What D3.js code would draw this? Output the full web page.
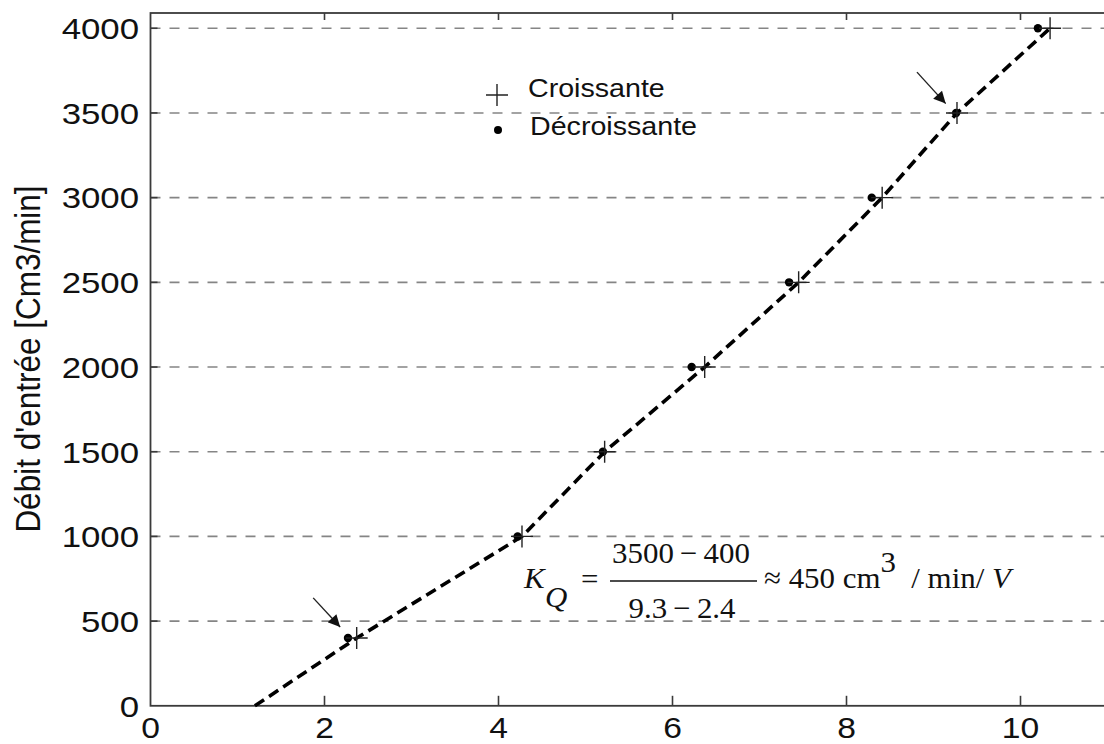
<!DOCTYPE html>
<html>
<head>
<meta charset="utf-8">
<script src="https://cdn.jsdelivr.net/npm/d3@7"></script>
<style>
  html, body { margin: 0; padding: 0; background: #fff; }
  svg { display: block; }
  text { font-family: "Liberation Sans", Arial, sans-serif; fill: #111; }
  .math { font-family: "Liberation Serif", "Times New Roman", serif; }
</style>
</head>
<body>
<svg id="chart" width="1104" height="744"></svg>
<script>
// Axis ticks
const xTicks = [0, 2, 4, 6, 8, 10];
const yTicks = [0, 500, 1000, 1500, 2000, 2500, 3000, 3500, 4000];

// Measured inlet flow (cm3/min) against command voltage (V)
const flowLevels      = [400, 1000, 1500, 2000, 2500, 3000, 3500, 4000];
const risingVoltage   = [2.37, 4.27, 5.22, 6.37, 7.45, 8.41, 9.27, 10.34]; // "Croissante"
const fallingVoltage  = [2.27, 4.22, 5.20, 6.22, 7.34, 8.29, 9.26, 10.20]; // "Décroissante"

// Characteristic drawn through the rising points, starting at the dead zone
const deadZoneVoltage = 1.2;

// Arrows marking the two points used for the gain: [from, to] in data units
const arrows = [
  { from: [8.81, 3741], to: [9.14, 3555] },
  { from: [1.87, 637],  to: [2.18, 465] }
];

const S = 1.13; // horizontal text stretch
const svg = d3.select("#chart");

const x = d3.scaleLinear().domain([0, 11]).range([150.5, 1107.5]);
const y = d3.scaleLinear().domain([0, 4090]).range([705.8, 13]);

const [x0, x1] = x.range();
const [yb, yt] = y.range();

// Dashed horizontal grid
svg.append("g").selectAll("line")
  .data(yTicks.filter(v => v > 0))
  .join("line")
  .attr("x1", x0).attr("x2", x1)
  .attr("y1", d => y(d)).attr("y2", d => y(d))
  .attr("stroke", "#858585").attr("stroke-width", 1.6)
  .attr("stroke-dasharray", "10,9");

// Frame
svg.append("rect")
  .attr("x", x0).attr("y", yt)
  .attr("width", x1 - x0).attr("height", yb - yt)
  .attr("fill", "none").attr("stroke", "#3a3a3a").attr("stroke-width", 1.8);

// Inward ticks on bottom / top / left
const ticks = svg.append("g").attr("stroke", "#3a3a3a").attr("stroke-width", 1.6);
ticks.selectAll(".tb").data(xTicks.filter(v => v > 0)).join("line")
  .attr("x1", d => x(d)).attr("x2", d => x(d))
  .attr("y1", yb).attr("y2", yb - 10);
ticks.selectAll(".tt").data(xTicks.filter(v => v > 0)).join("line")
  .attr("x1", d => x(d)).attr("x2", d => x(d))
  .attr("y1", yt).attr("y2", yt + 7);
ticks.selectAll(".tl").data(yTicks.filter(v => v > 0)).join("line")
  .attr("x1", x0).attr("x2", x0 + 7)
  .attr("y1", d => y(d)).attr("y2", d => y(d));

// Tick labels
svg.append("g").selectAll("g")
  .data(yTicks).join("g")
  .attr("transform", d => `translate(139,${y(d)}) scale(${S + 0.03},1)`)
  .append("text")
  .attr("text-anchor", "end").attr("dy", "0.36em")
  .style("font-size", "30px")
  .text(d => d);

svg.append("g").selectAll("g")
  .data(xTicks).join("g")
  .attr("transform", d => `translate(${x(d)},738) scale(${S + 0.03},1)`)
  .append("text")
  .attr("text-anchor", "middle")
  .style("font-size", "29px")
  .text(d => d);

// Y axis title
svg.append("text")
  .attr("transform", `translate(40,359) rotate(-90) scale(1,${S})`)
  .attr("text-anchor", "middle")
  .style("font-size", "31.5px")
  .text("Débit d'entrée [Cm3/min]");

// Fitted characteristic (dashed)
const fitPts = [[deadZoneVoltage, 0]].concat(risingVoltage.map((v, i) => [v, flowLevels[i]]));
svg.append("path")
  .datum(fitPts)
  .attr("d", d3.line().x(d => x(d[0])).y(d => y(d[1])))
  .attr("fill", "none").attr("stroke", "#000")
  .attr("stroke-width", 3.6).attr("stroke-dasharray", "11,6");

// Décroissante dots
svg.append("g").selectAll("circle")
  .data(fallingVoltage.map((v, i) => [v, flowLevels[i]]))
  .join("circle")
  .attr("cx", d => x(d[0])).attr("cy", d => y(d[1]))
  .attr("r", 4.2).attr("fill", "#000");

// Croissante plus markers
const plus = (sel, arm) => sel.attr("d", d => {
  const px = d.px, py = d.py;
  return `M${px - arm},${py}H${px + arm}M${px},${py - arm}V${py + arm}`;
});
svg.append("g").selectAll("path")
  .data(risingVoltage.map((v, i) => ({ px: x(v), py: y(flowLevels[i]) })))
  .join("path")
  .call(plus, 11)
  .attr("stroke", "#222").attr("stroke-width", 1.4).attr("fill", "none");

// Arrows
const defs = svg.append("defs");
defs.append("marker")
  .attr("id", "head").attr("viewBox", "0 0 10 10")
  .attr("refX", 10).attr("refY", 5)
  .attr("markerWidth", 16).attr("markerHeight", 12)
  .attr("markerUnits", "userSpaceOnUse")
  .attr("orient", "auto")
  .append("path").attr("d", "M0,0L10,5L0,10Z").attr("fill", "#111");
svg.append("g").selectAll("line")
  .data(arrows).join("line")
  .attr("x1", d => x(d.from[0])).attr("y1", d => y(d.from[1]))
  .attr("x2", d => x(d.to[0])).attr("y2", d => y(d.to[1]))
  .attr("stroke", "#222").attr("stroke-width", 1.4)
  .attr("marker-end", "url(#head)");

// Legend
const legend = svg.append("g");
legend.append("path").datum({ px: 497, py: 95 }).call(plus, 11)
  .attr("stroke", "#222").attr("stroke-width", 1.4);
legend.append("circle").attr("cx", 498).attr("cy", 130).attr("r", 4).attr("fill", "#000");
legend.append("g").attr("transform", `translate(528,97) scale(1.08,1)`)
  .append("text").style("font-size", "26.5px").text("Croissante");
legend.append("g").attr("transform", `translate(530,135) scale(1.08,1)`)
  .append("text").style("font-size", "26.5px").text("Décroissante");

// Gain formula
const FS = 1.03;
const f = svg.append("g")
  .attr("transform", `translate(525,588) scale(${FS},1)`);
const lx = sx => (sx - 525) / FS;
const fs = "30px";
const mt = (sx, sy, txt, opts = {}) => f.append("text")
  .attr("class", "math")
  .attr("x", lx(sx)).attr("y", sy - 588)
  .attr("text-anchor", opts.anchor || "start")
  .style("font-size", fs)
  .style("font-style", opts.italic ? "italic" : "normal")
  .text(txt);
mt(524, 588, "K", { italic: true });
mt(545, 607, "Q", { italic: true });
mt(581, 589, "=");
mt(681, 563, "3500\u2009\u2212\u2009400", { anchor: "middle" });
f.append("line")
  .attr("x1", lx(610)).attr("x2", lx(757))
  .attr("y1", 581 - 588).attr("y2", 581 - 588)
  .attr("stroke", "#111").attr("stroke-width", 1.4);
mt(682, 618, "9.3\u2009\u2212\u20092.4", { anchor: "middle" });
const tail = f.append("text").attr("class", "math")
  .attr("x", lx(764)).attr("y", 0).style("font-size", fs);
tail.append("tspan").text("\u2248 450 cm");
tail.append("tspan").attr("dy", -16).text("3");
tail.append("tspan").attr("dy", 16).text("\u2002/ min/ ");
tail.append("tspan").style("font-style", "italic").text("V");
</script>
</body>
</html>
